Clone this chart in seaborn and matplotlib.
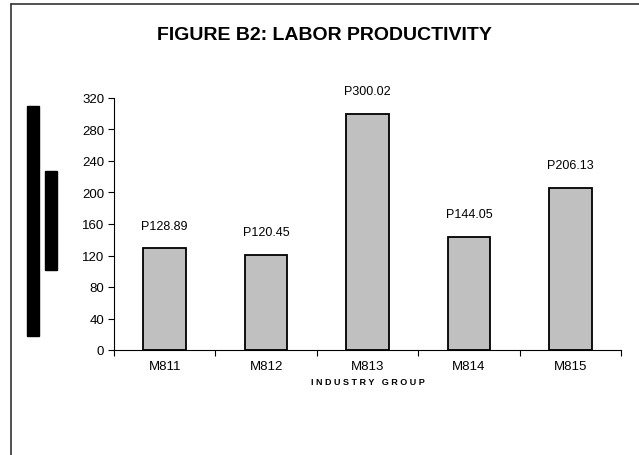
import matplotlib
matplotlib.use("Agg")
import matplotlib.pyplot as plt
import seaborn as sns
import pandas as pd
from matplotlib.patches import Rectangle
from matplotlib.lines import Line2D

categories = ["M811", "M812", "M813", "M814", "M815"]
values = [128.89, 120.45, 300.02, 144.05, 206.13]
value_labels = ["P128.89", "P120.45", "P300.02", "P144.05", "P206.13"]
y_ticks = [0, 40, 80, 120, 160, 200, 240, 280, 320]

sns.set_theme(style="white")
plt.rcParams["font.family"] = ["Liberation Sans", "DejaVu Sans"]
plt.rcParams["text.color"] = "black"
plt.rcParams["xtick.color"] = "black"
plt.rcParams["ytick.color"] = "black"
plt.rcParams["axes.labelcolor"] = "black"

W, H = 639, 456
fig = plt.figure(figsize=(W / 100, H / 100), dpi=100)
ax = fig.add_axes([114 / W, 1 - 351 / H, (621 - 114) / W, (351 - 99) / H])

df = pd.DataFrame({"group": categories, "value": values})
sns.barplot(data=df, x="group", y="value", ax=ax, color="#c0c0c0",
            edgecolor="black", linewidth=1.3, width=0.42, saturation=1)

ax.set_xlim(-0.5, len(categories) - 0.5)
ax.set_ylim(0, 320)
ax.set_yticks(y_ticks)
ax.set_yticklabels([str(t) for t in y_ticks], fontsize=9.5)
ax.tick_params(axis="y", length=4, width=0.8, color="black", pad=3, left=True)
ax.tick_params(axis="x", which="major", length=0, pad=7, labelsize=9.5)
ax.set_xticks([i - 0.5 for i in range(len(categories) + 1)], minor=True)
ax.tick_params(axis="x", which="minor", length=4, width=0.8, color="black", bottom=True)

for s in ["top", "right"]:
    ax.spines[s].set_visible(False)
for s in ["left", "bottom"]:
    ax.spines[s].set_color("black")
    ax.spines[s].set_linewidth(0.8)

for i, (v, lab) in enumerate(zip(values, value_labels)):
    ax.annotate(lab, (i, v), xytext=(0, 12), textcoords="offset points",
                ha="center", va="bottom", fontsize=9, color="black")

ax.set_xlabel("I N D U S T R Y   G R O U P", fontsize=6.5, fontweight="bold", labelpad=4)
ax.set_ylabel("")

fig.text(324 / W, 1 - 35 / H, "FIGURE B2: LABOR PRODUCTIVITY", ha="center", va="center",
         fontsize=14, fontweight="bold", color="black")

# decorative black blocks on the left (as in the reference)
fig.patches.append(Rectangle((27 / W, 1 - 337 / H), 12 / W, (337 - 107) / H,
                             transform=fig.transFigure, color="black"))
fig.patches.append(Rectangle((45 / W, 1 - 271 / H), 12 / W, (271 - 172) / H,
                             transform=fig.transFigure, color="black"))

# partial frame (left and top)
fig.lines.append(Line2D([11 / W, 11 / W], [0, 1 - 5 / H], transform=fig.transFigure,
                        color="#333333", linewidth=1.2))
fig.lines.append(Line2D([11 / W, 1], [1 - 5 / H, 1 - 5 / H], transform=fig.transFigure,
                        color="#333333", linewidth=1.2))

fig.savefig("out.png", dpi=100)
